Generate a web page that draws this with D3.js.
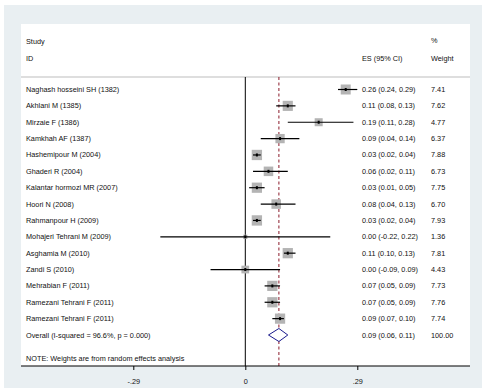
<!DOCTYPE html>
<html>
<head>
<meta charset="utf-8">
<script src="https://cdn.jsdelivr.net/npm/d3@7"></script>
<style>
  body { margin: 0; background: #fff; }
  text { font-family: "Liberation Sans", Arial, sans-serif; font-size: 7.3px; fill: #111; }
</style>
</head>
<body>
<div id="chart"></div>
<script>
var studies = ["Naghash hosseini  SH (1382)", "Akhlani M (1385)", "Mirzaie  F (1386)", "Kamkhah AF (1387)",
  "Hashemipour M (2004)", "Ghaderi R (2004)", "Kalantar hormozi MR (2007)", "Hoori N (2008)",
  "Rahmanpour H (2009)", "Mohajeri Tehrani M  (2009)", "Asghamia M (2010)", "Zandi S (2010)",
  "Mehrabian F (2011)", "Ramezani Tehrani F (2011)", "Ramezani Tehrani F (2011)"];
var es    = [0.26, 0.11, 0.19, 0.09, 0.03, 0.06, 0.03, 0.08, 0.03, 0.00, 0.11, 0.00, 0.07, 0.07, 0.09];
var lower = [0.24, 0.08, 0.11, 0.04, 0.02, 0.02, 0.01, 0.04, 0.02, -0.22, 0.10, -0.09, 0.05, 0.05, 0.07];
var upper = [0.29, 0.13, 0.28, 0.14, 0.04, 0.11, 0.05, 0.13, 0.04, 0.22, 0.13, 0.09, 0.09, 0.09, 0.10];
var weight = ["7.41", "7.62", "4.77", "6.37", "7.88", "6.73", "7.75", "6.70", "7.93", "1.36", "7.81", "4.43", "7.73", "7.76", "7.74"];
var overall = {label: "Overall  (I-squared = 96.6%, p = 0.000)", es: 0.087, lower: 0.06, upper: 0.11, text: "0.09 (0.06, 0.11)", weight: "100.00"};
var ticks = [-0.29, 0, 0.29];
var tickLabels = ["-.29", "0", ".29"];

var W = 488, H = 392;
var svg = d3.select("#chart").append("svg").attr("width", W).attr("height", H);

// outer panel and white plot region
svg.append("rect").attr("x", 4).attr("y", 5).attr("width", 478).attr("height", 383).attr("fill", "#e9eff2");
svg.append("rect").attr("x", 21).attr("y", 24).attr("width", 449).attr("height", 342).attr("fill", "#fff");

var x = d3.scaleLinear().domain([-0.29, 0.29]).range([133.3, 357.3]);
var rows = studies.concat([overall.label]);
var y = d3.scalePoint().domain(d3.range(rows.length)).range([89.5, 335]);
var boxSize = d3.scaleSqrt().domain([0, 7.41]).range([0, 10]);

var headY = 77, axisY = 366;

// header
svg.append("line").attr("x1", 21).attr("x2", 470).attr("y1", headY).attr("y2", headY)
  .attr("stroke", "#bdbdbd").attr("stroke-width", 1);
svg.append("text").attr("x", 26).attr("y", 44).text("Study");
svg.append("text").attr("x", 26).attr("y", 60.5).text("ID");
svg.append("text").attr("x", 362).attr("y", 60.5).text("ES (95% CI)");
svg.append("text").attr("x", 431).attr("y", 43).text("%");
svg.append("text").attr("x", 431).attr("y", 60.5).text("Weight");

// no-effect line and overall line
svg.append("line").attr("x1", x(0)).attr("x2", x(0)).attr("y1", headY).attr("y2", axisY)
  .attr("stroke", "#000").attr("stroke-width", 1);
svg.append("line").attr("x1", x(overall.es)).attr("x2", x(overall.es)).attr("y1", headY).attr("y2", axisY)
  .attr("stroke", "#8b1a2a").attr("stroke-width", 1).attr("stroke-dasharray", "3,2.5");

var g = svg.append("g");
var idx = d3.range(studies.length);

g.selectAll(".box").data(idx).enter().append("rect")
  .attr("x", function(i){ return x(es[i]) - boxSize(+weight[i]) / 2; })
  .attr("y", function(i){ return y(i) - boxSize(+weight[i]) / 2; })
  .attr("width", function(i){ return boxSize(+weight[i]); })
  .attr("height", function(i){ return boxSize(+weight[i]); })
  .attr("fill", "#b4b4b4");

g.selectAll(".ci").data(idx).enter().append("line")
  .attr("x1", function(i){ return x(lower[i]); })
  .attr("x2", function(i){ return x(upper[i]); })
  .attr("y1", function(i){ return y(i); })
  .attr("y2", function(i){ return y(i); })
  .attr("stroke", "#000").attr("stroke-width", 1.2);

g.selectAll(".pt").data(idx).enter().append("rect")
  .attr("x", function(i){ return x(es[i]) - 1; })
  .attr("y", function(i){ return y(i) - 1.5; })
  .attr("width", 2).attr("height", 3)
  .attr("fill", "#000");

g.selectAll(".lab").data(studies).enter().append("text")
  .attr("x", 26).attr("y", function(d, i){ return y(i) + 2.5; })
  .text(function(d){ return d; });

g.selectAll(".es").data(idx).enter().append("text")
  .attr("x", 362).attr("y", function(i){ return y(i) + 2.5; })
  .text(function(i){
    return es[i].toFixed(2) + " (" + lower[i].toFixed(2) + ", " + upper[i].toFixed(2) + ")";
  });

g.selectAll(".wt").data(weight).enter().append("text")
  .attr("x", 431).attr("y", function(d, i){ return y(i) + 2.5; })
  .text(function(d){ return d; });

// overall diamond
var oy = y(studies.length);
svg.append("path")
  .attr("d", "M" + x(overall.lower) + "," + oy + "L" + x(overall.es) + "," + (oy - 6.5) +
             "L" + x(overall.upper) + "," + oy + "L" + x(overall.es) + "," + (oy + 6.5) + "Z")
  .attr("fill", "#fff").attr("stroke", "#1a1a8c").attr("stroke-width", 1);
svg.append("text").attr("x", 26).attr("y", oy + 2.5).text(overall.label);
svg.append("text").attr("x", 362).attr("y", oy + 2.5).text(overall.text);
svg.append("text").attr("x", 431).attr("y", oy + 2.5).text(overall.weight);

svg.append("text").attr("x", 26).attr("y", 361).text("NOTE: Weights are from random effects analysis");

// axis
svg.append("line").attr("x1", 21).attr("x2", 470).attr("y1", axisY).attr("y2", axisY)
  .attr("stroke", "#000").attr("stroke-width", 1.2);
var axis = svg.append("g").attr("transform", "translate(0," + axisY + ")")
  .call(d3.axisBottom(x).tickValues(ticks).tickSize(4).tickFormat(function(d, i){ return tickLabels[i]; }));
axis.select(".domain").remove();
axis.selectAll("line").attr("stroke", "#000");
axis.selectAll("text").attr("font-family", "Liberation Sans, Arial, sans-serif").attr("font-size", 7.3)
  .attr("fill", "#111").attr("dy", "1.5em");
</script>
</body>
</html>
